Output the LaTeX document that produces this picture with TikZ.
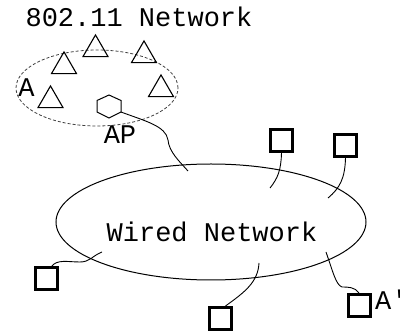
\documentclass[tikz,border=0pt]{standalone}
\usepackage{fontspec}
\newfontfamily\monofam{Liberation Mono}
\usetikzlibrary{shapes.geometric}
\begin{document}
\begin{tikzpicture}[x=1pt,y=-1pt,
  txt/.style={inner sep=0pt,anchor=base,font=\monofam\fontsize{27}{30}\selectfont},
  station/.style={draw,regular polygon,regular polygon sides=3,inner sep=0pt,minimum size=28.9pt,line width=1.1pt},
  host/.style={draw,rectangle,inner sep=0pt,minimum size=22pt,line width=3pt},
  wire/.style={line width=0.9pt},
  bss/.style={draw,ellipse,inner sep=0pt,line width=0.8pt,black!75,dash pattern=on 3pt off 2pt},
  lan/.style={draw,ellipse,inner sep=0pt,line width=1pt}]
\useasboundingbox (0,0) rectangle (400,331);
% titles
\node[txt] (title) at (139,27) {802.11 Network};
% BSS
\node[bss,minimum width=162pt,minimum height=76pt] (bsscloud) at (97,88) {};
\node[station] (t1) at (95.5,49.4) {};
\node[station] (t2) at (144,55.4) {};
\node[station] (t3) at (64,66.4) {};
\node[station] (t4) at (161,89.4) {};
\node[station] (t5) at (50.5,100.4) {};
\node[txt] (alabel) at (26.5,97) {A};
% access point
\coordinate (hex) at (109,106.5);
\draw[line width=1pt] (97,100.5) -- (109,95) -- (121,100.5) -- (121,112) coordinate (hexport) -- (109,118) -- (97,112) -- cycle;
\node[txt] (aplabel) at (120,144) {AP};
% wired network
\node[lan,minimum width=310pt,minimum height=116pt] (wired) at (211,222) {};
\node[txt] (wiredlabel) at (212,242) {Wired Network};
% hosts
\node[host] (s1) at (281.5,140.5) {};
\node[host] (s2) at (345.5,145.5) {};
\node[host] (s3) at (46.5,279) {};
\node[host] (s4) at (220.5,318.5) {};
\node[host] (s5) at (359,305.5) {};
\node[txt,anchor=base west] (a2label) at (375,310) {A'};
% wire ends
\coordinate (e0) at (188,171);
\coordinate (e1) at (270,188);
\coordinate (e2) at (328,198);
\coordinate (e3) at (102,252);
\coordinate (e4) at (259,263);
\coordinate (e5) at (326,252);
% wires
\draw[wire] (hexport) .. controls (145,121) and (166,126) .. (168,140) .. controls (169,152) and (180,162) .. (e0);
\draw[wire] (s1.south) .. controls (281,170) and (278,178) .. (e1);
\draw[wire] (s2.south) .. controls (345,178) and (340,188) .. (e2);
\draw[wire] ([xshift=5pt]s3.north) .. controls (57,259) and (68,262) .. (80,262) .. controls (90,262) and (92,256) .. (e3);
\draw[wire] ([xshift=5pt]s4.north) .. controls (245,292) and (258,282) .. (e4);
\draw[wire] (s5.north) .. controls (355,287) and (348,287) .. (342,287) .. controls (336,285) and (333,272) .. (e5);
\end{tikzpicture}
\end{document}
